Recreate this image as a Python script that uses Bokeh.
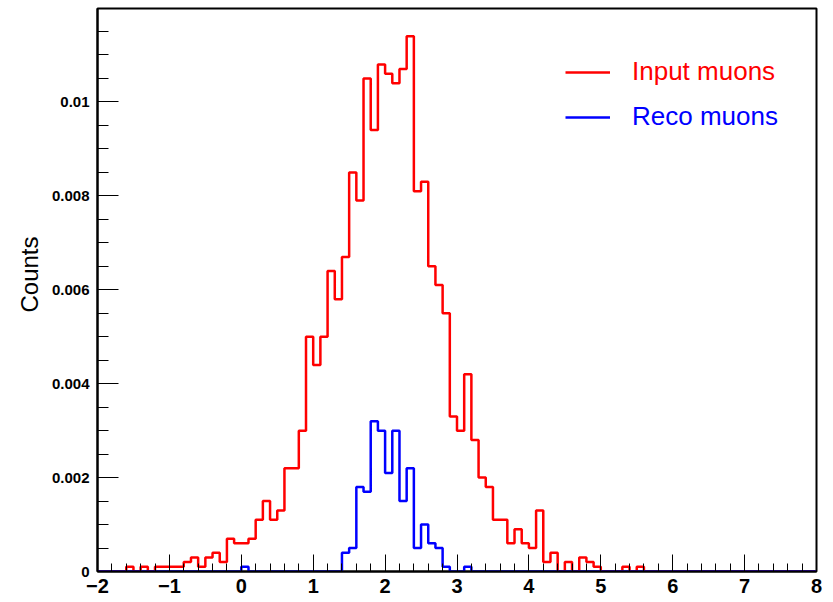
import numpy as np
from bokeh.plotting import figure
from bokeh.models import Range1d, SingleIntervalTicker, FixedTicker, Legend, LegendItem, Title
from bokeh.embed import file_html
from bokeh.resources import INLINE

# Histogram binning (100 bins of width 0.1 from -2 to 8)
x_min = -2.0
x_max = 8.0
n_bins = 100

# Input muons (red), bin contents
input_muons = [
    0, 0, 0, 0, 0.0001, 0, 0.0001, 0, 0.0001, 0.0001,
    0.0001, 0.0001, 0.0002, 0.0003, 0.0001, 0.0003, 0.0004, 0.0002, 0.0007, 0.0006,
    0.0006, 0.0007, 0.0011, 0.0015, 0.0011, 0.0013, 0.0022, 0.0022, 0.0030, 0.0050,
    0.0044, 0.0050, 0.0064, 0.0058, 0.0067, 0.0085, 0.0079, 0.0105, 0.0094, 0.0108,
    0.0106, 0.0104, 0.0107, 0.0114, 0.0081, 0.0083, 0.0065, 0.0061, 0.0055, 0.0033,
    0.0030, 0.0042, 0.0028, 0.0020, 0.0018, 0.0011, 0.0011, 0.0006, 0.0009, 0.0006,
    0.0005, 0.0013, 0.0002, 0.0004, 0, 0.0002, 0, 0.0003, 0.0002, 0.0001,
    0, 0, 0, 0.0001, 0, 0.0001, 0, 0, 0, 0,
    0, 0, 0, 0, 0, 0, 0, 0, 0, 0,
    0, 0, 0, 0, 0, 0, 0, 0, 0, 0,
]

# Reco muons (blue)
reco_muons = [
    0, 0, 0, 0, 0, 0, 0, 0, 0, 0,
    0, 0, 0, 0, 0, 0, 0, 0, 0, 0,
    0.0001, 0, 0, 0, 0, 0, 0, 0, 0, 0,
    0, 0, 0, 0, 0.0004, 0.0005, 0.0018, 0.0017, 0.0032, 0.0030,
    0.0021, 0.0030, 0.0015, 0.0022, 0.0005, 0.0010, 0.0006, 0.0005, 0.0001, 0,
    0, 0.0001, 0, 0, 0, 0, 0, 0, 0, 0,
    0, 0, 0, 0, 0, 0, 0, 0, 0, 0,
    0, 0, 0, 0, 0, 0, 0, 0, 0, 0,
    0, 0, 0, 0, 0, 0, 0, 0, 0, 0,
    0, 0, 0, 0, 0, 0, 0, 0, 0, 0,
]

y_ticks = [0, 0.002, 0.004, 0.006, 0.008, 0.01]
y_tick_labels = ["0", "0.002", "0.004", "0.006", "0.008", "0.01"]
y_axis_title = "Counts"
series_names = ["Input muons", "Reco muons"]
series_colors = ["#ff0000", "#0000ff"]

edges = np.linspace(x_min, x_max, n_bins + 1)

p = figure(width=833, height=602, output_backend="svg", toolbar_location=None,
           x_range=Range1d(x_min, x_max), y_range=Range1d(0, 0.01199),
           min_border_left=97, min_border_right=17, min_border_top=8, min_border_bottom=31)
p.xgrid.visible = False
p.ygrid.visible = False
p.outline_line_color = "black"
p.outline_line_width = 2
p.background_fill_color = "white"
p.border_fill_color = "white"

renderers = []
for vals, color in zip([input_muons, reco_muons], series_colors):
    yv = list(vals) + [vals[-1]]
    r = p.step(x=edges, y=yv, mode="after", line_color=color, line_width=2.5)
    renderers.append(r)

# axes
p.xaxis.ticker = SingleIntervalTicker(interval=1, num_minor_ticks=5)
minor_y = [i * 0.0005 for i in range(25)]
p.yaxis.ticker = FixedTicker(ticks=y_ticks, minor_ticks=minor_y)
p.yaxis.major_label_overrides = {t: l for t, l in zip(y_ticks, y_tick_labels)}

for ax in [p.xaxis[0], p.yaxis[0]]:
    ax.axis_line_color = "black"
    ax.axis_line_width = 2
    ax.major_tick_out = 0
    ax.minor_tick_out = 0
    ax.major_tick_line_color = "black"
    ax.minor_tick_line_color = "black"
    ax.major_tick_line_width = 1
    ax.minor_tick_line_width = 1
    ax.major_label_text_font = "Liberation Sans"
    ax.major_label_text_font_style = "bold"
    ax.major_label_text_color = "black"

p.xaxis.major_tick_in = 17
p.xaxis.minor_tick_in = 8
p.yaxis.major_tick_in = 21
p.yaxis.minor_tick_in = 11
p.xaxis.major_label_text_font_size = "20px"
p.xaxis.major_label_standoff = 7
p.yaxis.major_label_text_font_size = "15px"
p.yaxis.major_label_standoff = 8

# y axis title, placed towards the top like the reference
ytitle = Title(text=y_axis_title, align="right", offset=228,
               text_font="Liberation Sans", text_font_style="normal",
               text_font_size="24px", text_color="black", standoff=12)
p.add_layout(ytitle, "left")

# legends, one per series so each text takes its line colour
leg_pos = [(468, 484), (468, 439)]
for name, color, r, pos in zip(series_names, series_colors, renderers, leg_pos):
    leg = Legend(items=[LegendItem(label=name, renderers=[r])], location=pos,
                 label_text_color=color, label_text_font="Liberation Sans",
                 label_text_font_size="26px", glyph_width=45, glyph_height=30,
                 label_height=30, label_standoff=22, padding=0, margin=0,
                 background_fill_alpha=0, border_line_alpha=0)
    p.add_layout(leg, "center")

open("out.html", "w").write(file_html(p, INLINE))
